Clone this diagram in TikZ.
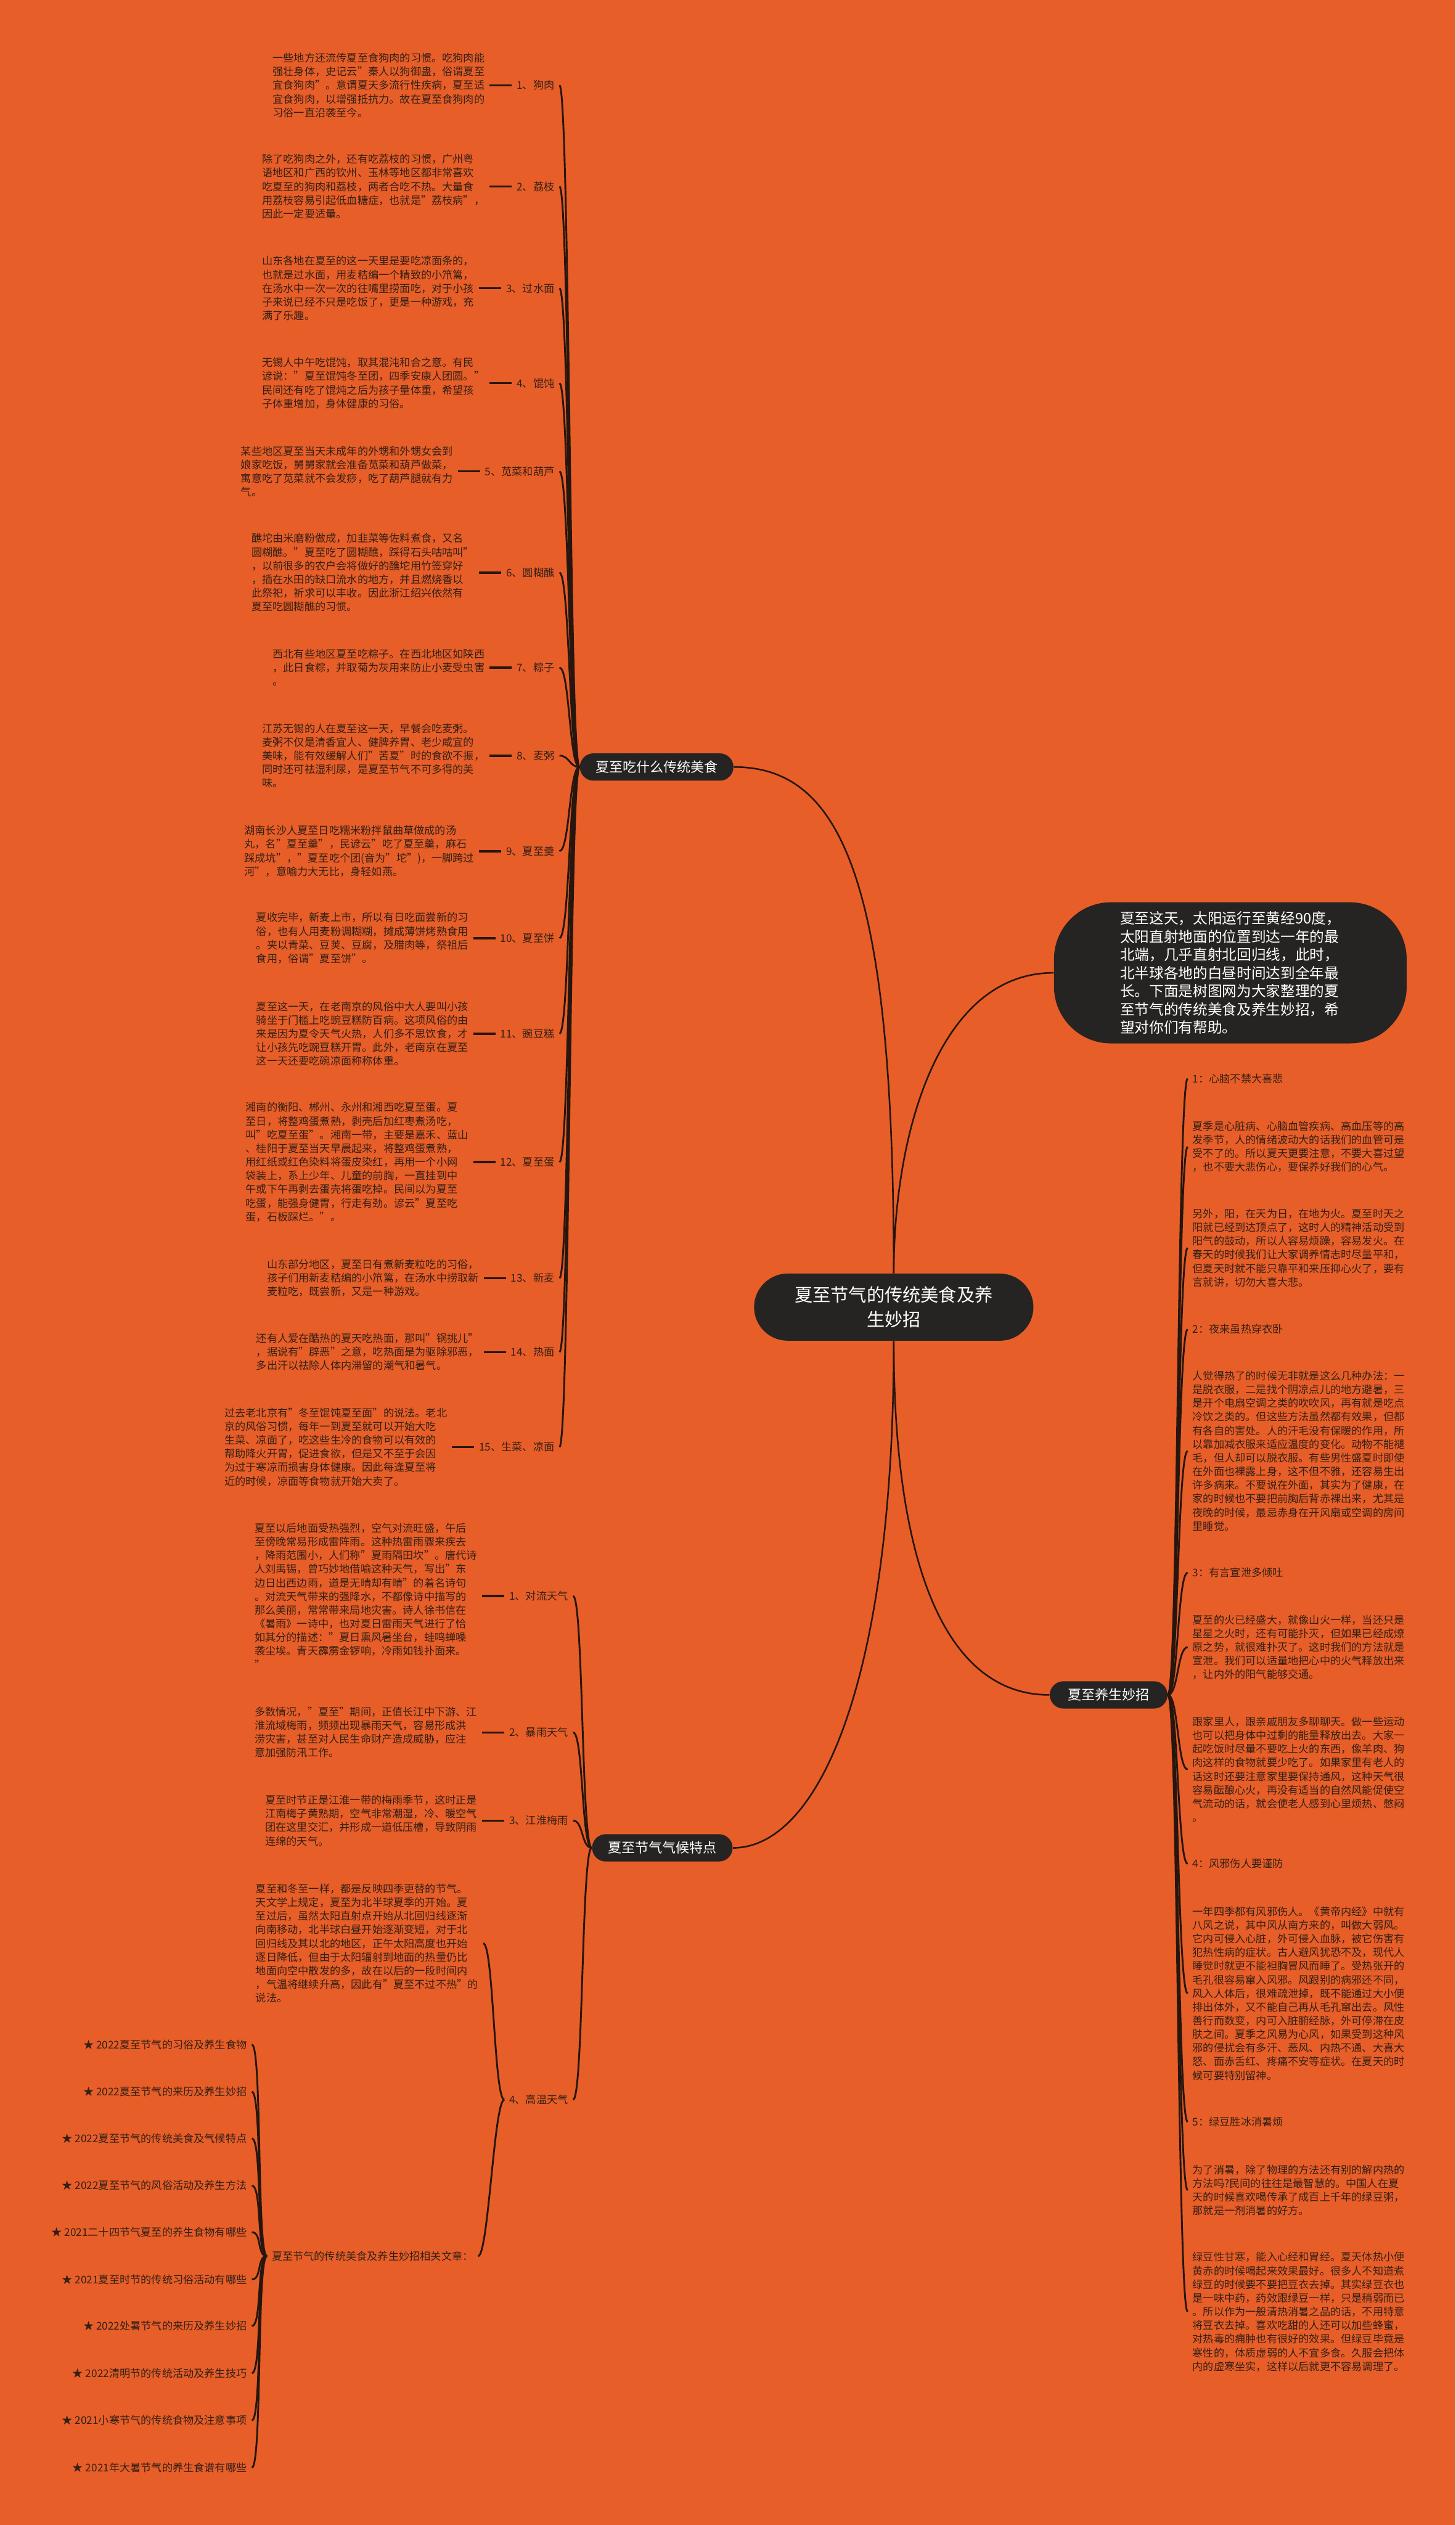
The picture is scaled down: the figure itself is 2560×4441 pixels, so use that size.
\documentclass[tikz,border=0pt]{standalone}
\usepackage{fontspec}
\setmainfont{Noto Sans CJK SC}
\usetikzlibrary{positioning}
\definecolor{bgorange}{RGB}{232,94,40}
\definecolor{pillgray}{RGB}{38,36,34}
\definecolor{inkbrown}{RGB}{50,32,22}
\definecolor{wirebrown}{RGB}{38,22,14}

\begin{document}
\begin{tikzpicture}[x=0.01cm, y=-0.01cm,
		txt/.style={align=left, inner sep=0.08cm, text=inkbrown, font=\fontsize{5.3}{6.83}\selectfont},
		rtxt/.style={txt, anchor=west},
		lbl/.style={txt, anchor=east},
		subject/.style={fill=pillgray, text=white, rounded corners=0.24cm, minimum height=0.48cm, inner sep=0.04cm, font=\fontsize{6.8}{8}\selectfont},
		hub/.style={fill=pillgray, text=white, align=center, rounded corners=0.59cm, minimum width=4.91cm, minimum height=1.18cm, font=\fontsize{9}{12.2}\selectfont},
		intro/.style={fill=pillgray, text=white, align=left, rounded corners=1cm, minimum width=6.2cm, minimum height=2.48cm, font=\fontsize{7.3}{9.1}\selectfont},
		mainwire/.style={draw=wirebrown, line width=0.8pt},
		stub/.style={draw=wirebrown, line width=1.1pt},
		lcurve/.style={draw=wirebrown, line width=0.9pt, to path={.. controls +(-18,0) and +(18,0) .. (\tikztotarget)}},
		rcurve/.style={draw=wirebrown, line width=0.9pt, to path={.. controls +(18,0) and +(-18,0) .. (\tikztotarget)}}
	]
	\useasboundingbox (0,0) rectangle (2560,4441);
	\fill[bgorange] (0,0) rectangle (2560,4441);

	\node[hub] (hub) at (1572,2299) {夏至节气的传统美食及养\\生妙招};
	\node[intro] (intro) at (2164,1711) {夏至这天，太阳运行至黄经90度，\\太阳直射地面的位置到达一年的最\\北端，几乎直射北回归线，此时，\\北半球各地的白昼时间达到全年最\\长。下面是树图网为大家整理的夏\\至节气的传统美食及养生妙招，希\\望对你们有帮助。};
	\node[subject, minimum width=2.70cm] (food) at (1155,1349) {夏至吃什么传统美食};
	\node[subject, minimum width=2.47cm] (climate) at (1165,3250) {夏至节气气候特点};
	\node[subject, minimum width=2.07cm] (care) at (1950,2981) {夏至养生妙招};

	\draw[mainwire] (hub.north) .. controls +(0,-690) and +(190,0) .. (food.east);
	\draw[mainwire] (hub.north) .. controls +(0,-250) and +(-200,0) .. (intro.west);
	\draw[mainwire] (hub.south) .. controls +(0,600) and +(150,0) .. (climate.east);
	\draw[mainwire] (hub.south) .. controls +(0,400) and +(-180,0) .. (care.west);

	\node[lbl] (f1) at (984,150) {1、狗肉};
	\node[txt, left=0.39cm of f1] (f1t) {一些地方还流传夏至食狗肉的习惯。吃狗肉能\\强壮身体，史记云"秦人以狗御蛊，俗谓夏至\\宜食狗肉"。意谓夏天多流行性疾病，夏至适\\宜食狗肉，以增强抵抗力。故在夏至食狗肉的\\习俗一直沿袭至今。};
	\node[lbl] (f2) at (984,328) {2、荔枝};
	\node[txt, left=0.39cm of f2] (f2t) {除了吃狗肉之外，还有吃荔枝的习惯，广州粤\\语地区和广西的钦州、玉林等地区都非常喜欢\\吃夏至的狗肉和荔枝，两者合吃不热。大量食\\用荔枝容易引起低血糖症，也就是"荔枝病"，\\因此一定要适量。};
	\node[lbl] (f3) at (984,507) {3、过水面};
	\node[txt, left=0.39cm of f3] (f3t) {山东各地在夏至的这一天里是要吃凉面条的，\\也就是过水面，用麦秸编一个精致的小笊篱，\\在汤水中一次一次的往嘴里捞面吃，对于小孩\\子来说已经不只是吃饭了，更是一种游戏，充\\满了乐趣。};
	\node[lbl] (f4) at (984,674) {4、馄饨};
	\node[txt, left=0.39cm of f4] (f4t) {无锡人中午吃馄饨，取其混沌和合之意。有民\\谚说："夏至馄饨冬至团，四季安康人团圆。"\\民间还有吃了馄炖之后为孩子量体重，希望孩\\子体重增加，身体健康的习俗。};
	\node[lbl] (f5) at (984,829) {5、苋菜和葫芦};
	\node[txt, left=0.39cm of f5] (f5t) {某些地区夏至当天未成年的外甥和外甥女会到\\娘家吃饭，舅舅家就会准备苋菜和葫芦做菜，\\寓意吃了苋菜就不会发痧，吃了葫芦腿就有力\\气。};
	\node[lbl] (f6) at (984,1007) {6、圆糊醮};
	\node[txt, left=0.39cm of f6] (f6t) {醮坨由米磨粉做成，加韭菜等佐料煮食，又名\\圆糊醮。"夏至吃了圆糊醮，踩得石头咕咕叫"\\，以前很多的农户会将做好的醮坨用竹签穿好\\，插在水田的缺口流水的地方，并且燃烧香以\\此祭祀，祈求可以丰收。因此浙江绍兴依然有\\夏至吃圆糊醮的习惯。};
	\node[lbl] (f7) at (984,1174) {7、粽子};
	\node[txt, left=0.39cm of f7] (f7t) {西北有些地区夏至吃粽子。在西北地区如陕西\\，此日食粽，并取菊为灰用来防止小麦受虫害\\。};
	\node[lbl] (f8) at (984,1329) {8、麦粥};
	\node[txt, left=0.39cm of f8] (f8t) {江苏无锡的人在夏至这一天，早餐会吃麦粥。\\麦粥不仅是清香宜人、健脾养胃、老少咸宜的\\美味，能有效缓解人们"苦夏"时的食欲不振，\\同时还可祛湿利尿，是夏至节气不可多得的美\\味。};
	\node[lbl] (f9) at (984,1497) {9、夏至羹};
	\node[txt, left=0.39cm of f9] (f9t) {湖南长沙人夏至日吃糯米粉拌鼠曲草做成的汤\\丸，名"夏至羹"，民谚云"吃了夏至羹，麻石\\踩成坑"，"夏至吃个团(音为"坨")，一脚跨过\\河"，意喻力大无比，身轻如燕。};
	\node[lbl] (f10) at (984,1650) {10、夏至饼};
	\node[txt, left=0.39cm of f10] (f10t) {夏收完毕，新麦上市，所以有日吃面尝新的习\\俗，也有人用麦粉调糊糊，摊成薄饼烤熟食用\\。夹以青菜、豆荚、豆腐，及腊肉等，祭祖后\\食用，俗谓"夏至饼"。};
	\node[lbl] (f11) at (984,1818) {11、豌豆糕};
	\node[txt, left=0.39cm of f11] (f11t) {夏至这一天，在老南京的风俗中大人要叫小孩\\骑坐于门槛上吃豌豆糕防百病。这项风俗的由\\来是因为夏令天气火热，人们多不思饮食，才\\让小孩先吃豌豆糕开胃。此外，老南京在夏至\\这一天还要吃碗凉面称称体重。};
	\node[lbl] (f12) at (984,2044) {12、夏至蛋};
	\node[txt, left=0.39cm of f12] (f12t) {湘南的衡阳、郴州、永州和湘西吃夏至蛋。夏\\至日，将整鸡蛋煮熟，剥壳后加红枣煮汤吃，\\叫"吃夏至蛋"。湘南一带，主要是嘉禾、蓝山\\、桂阳于夏至当天早晨起来，将整鸡蛋煮熟，\\用红纸或红色染料将蛋皮染红，再用一个小网\\袋装上，系上少年、儿童的前胸，一直挂到中\\午或下午再剥去蛋壳将蛋吃掉。民间以为夏至\\吃蛋，能强身健胃，行走有劲。谚云"夏至吃\\蛋，石板踩烂。"。};
	\node[lbl] (f13) at (984,2248) {13、新麦};
	\node[txt, left=0.39cm of f13] (f13t) {山东部分地区，夏至日有煮新麦粒吃的习俗，\\孩子们用新麦秸编的小笊篱，在汤水中捞取新\\麦粒吃，既尝新，又是一种游戏。};
	\node[lbl] (f14) at (984,2378) {14、热面};
	\node[txt, left=0.39cm of f14] (f14t) {还有人爱在酷热的夏天吃热面，那叫"锅挑儿"\\，据说有"辟恶"之意，吃热面是为驱除邪恶，\\多出汗以祛除人体内滞留的潮气和暑气。};
	\node[lbl] (f15) at (984,2545) {15、生菜、凉面};
	\node[txt, left=0.39cm of f15] (f15t) {过去老北京有"冬至馄饨夏至面"的说法。老北\\京的风俗习惯，每年一到夏至就可以开始大吃\\生菜、凉面了，吃这些生冷的食物可以有效的\\帮助降火开胃，促进食欲，但是又不至于会因\\为过于寒凉而损害身体健康。因此每逢夏至将\\近的时候，凉面等食物就开始大卖了。};

	\draw[lcurve] (food.west) to (f1.east);
	\draw[lcurve] (food.west) to (f2.east);
	\draw[lcurve] (food.west) to (f3.east);
	\draw[lcurve] (food.west) to (f4.east);
	\draw[lcurve] (food.west) to (f5.east);
	\draw[lcurve] (food.west) to (f6.east);
	\draw[lcurve] (food.west) to (f7.east);
	\draw[lcurve] (food.west) to (f8.east);
	\draw[lcurve] (food.west) to (f9.east);
	\draw[lcurve] (food.west) to (f10.east);
	\draw[lcurve] (food.west) to (f11.east);
	\draw[lcurve] (food.west) to (f12.east);
	\draw[lcurve] (food.west) to (f13.east);
	\draw[lcurve] (food.west) to (f14.east);
	\draw[lcurve] (food.west) to (f15.east);
	\draw[stub] (f1t) -- (f1);
	\draw[stub] (f2t) -- (f2);
	\draw[stub] (f3t) -- (f3);
	\draw[stub] (f4t) -- (f4);
	\draw[stub] (f5t) -- (f5);
	\draw[stub] (f6t) -- (f6);
	\draw[stub] (f7t) -- (f7);
	\draw[stub] (f8t) -- (f8);
	\draw[stub] (f9t) -- (f9);
	\draw[stub] (f10t) -- (f10);
	\draw[stub] (f11t) -- (f11);
	\draw[stub] (f12t) -- (f12);
	\draw[stub] (f13t) -- (f13);
	\draw[stub] (f14t) -- (f14);
	\draw[stub] (f15t) -- (f15);

	\node[lbl] (c1) at (1008,2807) {1、对流天气};
	\node[txt, left=0.39cm of c1] (c1t) {夏至以后地面受热强烈，空气对流旺盛，午后\\至傍晚常易形成雷阵雨。这种热雷雨骤来疾去\\，降雨范围小，人们称"夏雨隔田坎"。唐代诗\\人刘禹锡，曾巧妙地借喻这种天气，写出"东\\边日出西边雨，道是无晴却有晴"的着名诗句\\。对流天气带来的强降水，不都像诗中描写的\\那么美丽，常常带来局地灾害。诗人徐书信在\\《暑雨》一诗中，也对夏日雷雨天气进行了恰\\如其分的描述："夏日熏风暑坐台，蛙鸣蝉噪\\袭尘埃。青天霹雳金锣响，冷雨如钱扑面来。\\"};
	\node[lbl] (c2) at (1008,3047) {2、暴雨天气};
	\node[txt, left=0.39cm of c2] (c2t) {多数情况，"夏至"期间，正值长江中下游、江\\淮流域梅雨，频频出现暴雨天气，容易形成洪\\涝灾害，甚至对人民生命财产造成威胁，应注\\意加强防汛工作。};
	\node[lbl] (c3) at (1008,3202) {3、江淮梅雨};
	\node[txt, left=0.39cm of c3] (c3t) {夏至时节正是江淮一带的梅雨季节，这时正是\\江南梅子黄熟期，空气非常潮湿，冷、暖空气\\团在这里交汇，并形成一道低压槽，导致阴雨\\连绵的天气。};
	\node[lbl] (c4) at (1008,3693) {4、高温天气};
	\node[lbl] (c4t) at (850,3418) {夏至和冬至一样，都是反映四季更替的节气。\\天文学上规定，夏至为北半球夏季的开始。夏\\至过后，虽然太阳直射点开始从北回归线逐渐\\向南移动，北半球白昼开始逐渐变短，对于北\\回归线及其以北的地区，正午太阳高度也开始\\逐日降低，但由于太阳辐射到地面的热量仍比\\地面向空中散发的多，故在以后的一段时间内\\，气温将继续升高，因此有"夏至不过不热"的\\说法。};
	\node[lbl] (art) at (841,3968) {夏至节气的传统美食及养生妙招相关文章：};

	\draw[lcurve] (climate.west) to (c1.east);
	\draw[lcurve] (climate.west) to (c2.east);
	\draw[lcurve] (climate.west) to (c3.east);
	\draw[lcurve] (climate.west) to (c4.east);
	\draw[stub] (c1t) -- (c1);
	\draw[stub] (c2t) -- (c2);
	\draw[stub] (c3t) -- (c3);
	\draw[lcurve] (c4.west) to (c4t.east);
	\draw[lcurve] (c4.west) to (art.east);

	\node[lbl] (a1) at (443,3596) {★ 2022夏至节气的习俗及养生食物};
	\node[lbl] (a2) at (443,3679) {★ 2022夏至节气的来历及养生妙招};
	\node[lbl] (a3) at (443,3761) {★ 2022夏至节气的传统美食及气候特点};
	\node[lbl] (a4) at (443,3844) {★ 2022夏至节气的风俗活动及养生方法};
	\node[lbl] (a5) at (443,3926) {★ 2021二十四节气夏至的养生食物有哪些};
	\node[lbl] (a6) at (443,4009) {★ 2021夏至时节的传统习俗活动有哪些};
	\node[lbl] (a7) at (443,4091) {★ 2022处暑节气的来历及养生妙招};
	\node[lbl] (a8) at (443,4174) {★ 2022清明节的传统活动及养生技巧};
	\node[lbl] (a9) at (443,4257) {★ 2021小寒节气的传统食物及注意事项};
	\node[lbl] (a10) at (443,4340) {★ 2021年大暑节气的养生食谱有哪些};

	\draw[lcurve] (art.west) to (a1.east);
	\draw[lcurve] (art.west) to (a2.east);
	\draw[lcurve] (art.west) to (a3.east);
	\draw[lcurve] (art.west) to (a4.east);
	\draw[lcurve] (art.west) to (a5.east);
	\draw[lcurve] (art.west) to (a6.east);
	\draw[lcurve] (art.west) to (a7.east);
	\draw[lcurve] (art.west) to (a8.east);
	\draw[lcurve] (art.west) to (a9.east);
	\draw[lcurve] (art.west) to (a10.east);

	\node[rtxt] (s1) at (2089,1897) {1：心脑不禁大喜悲};
	\node[rtxt] (s2) at (2089,2017) {夏季是心脏病、心脑血管疾病、高血压等的高\\发季节，人的情绪波动大的话我们的血管可是\\受不了的。所以夏天更要注意，不要大喜过望\\，也不要大悲伤心，要保养好我们的心气。};
	\node[rtxt] (s3) at (2089,2195) {另外，阳，在天为日，在地为火。夏至时天之\\阳就已经到达顶点了，这时人的精神活动受到\\阳气的鼓动，所以人容易烦躁，容易发火。在\\春天的时候我们让大家调养情志时尽量平和，\\但夏天时就不能只靠平和来压抑心火了，要有\\言就讲，切勿大喜大悲。};
	\node[rtxt] (s4) at (2089,2338) {2：夜来虽热穿衣卧};
	\node[rtxt] (s5) at (2089,2552) {人觉得热了的时候无非就是这么几种办法：一\\是脱衣服，二是找个阴凉点儿的地方避暑，三\\是开个电扇空调之类的吹吹风，再有就是吃点\\冷饮之类的。但这些方法虽然都有效果，但都\\有各自的害处。人的汗毛没有保暖的作用，所\\以靠加减衣服来适应温度的变化。动物不能褪\\毛，但人却可以脱衣服。有些男性盛夏时即使\\在外面也裸露上身，这不但不雅，还容易生出\\许多病来。不要说在外面，其实为了健康，在\\家的时候也不要把前胸后背赤裸出来，尤其是\\夜晚的时候，最忌赤身在开风扇或空调的房间\\里睡觉。};
	\node[rtxt] (s6) at (2089,2766) {3：有言宣泄多倾吐};
	\node[rtxt] (s7) at (2089,2897) {夏至的火已经盛大，就像山火一样，当还只是\\星星之火时，还有可能扑灭，但如果已经成燎\\原之势，就很难扑灭了。这时我们的方法就是\\宣泄。我们可以适量地把心中的火气释放出来\\，让内外的阳气能够交通。};
	\node[rtxt] (s8) at (2089,3112) {跟家里人，跟亲戚朋友多聊聊天。做一些运动\\也可以把身体中过剩的能量释放出去。大家一\\起吃饭时尽量不要吃上火的东西，像羊肉、狗\\肉这样的食物就要少吃了。如果家里有老人的\\话这时还要注意家里要保持通风，这种天气很\\容易酝酿心火，再没有适当的自然风能促使空\\气流动的话，就会使老人感到心里烦热、憋闷\\。};
	\node[rtxt] (s9) at (2089,3278) {4：风邪伤人要谨防};
	\node[rtxt] (s10) at (2089,3506) {一年四季都有风邪伤人。《黄帝内经》中就有\\八风之说，其中风从南方来的，叫做大弱风。\\它内可侵入心脏，外可侵入血脉，被它伤害有\\犯热性病的症状。古人避风犹恐不及，现代人\\睡觉时就更不能袒胸冒风而睡了。受热张开的\\毛孔很容易窜入风邪。风跟别的病邪还不同，\\风入人体后，很难疏泄掉，既不能通过大小便\\排出体外，又不能自己再从毛孔窜出去。风性\\善行而数变，内可入脏腑经脉，外可停滞在皮\\肤之间。夏季之风易为心风，如果受到这种风\\邪的侵扰会有多汗、恶风、内热不通、大喜大\\怒、面赤舌红、疼痛不安等症状。在夏天的时\\候可要特别留神。};
	\node[rtxt] (s11) at (2089,3732) {5：绿豆胜冰消暑烦};
	\node[rtxt] (s12) at (2089,3852) {为了消暑，除了物理的方法还有别的解内热的\\方法吗?民间的往往是最智慧的。中国人在夏\\天的时候喜欢喝传承了成百上千年的绿豆粥，\\那就是一剂消暑的好方。};
	\node[rtxt] (s13) at (2089,4066) {绿豆性甘寒，能入心经和胃经。夏天体热小便\\黄赤的时候喝起来效果最好。很多人不知道煮\\绿豆的时候要不要把豆衣去掉。其实绿豆衣也\\是一味中药，药效跟绿豆一样，只是稍弱而已\\。所以作为一般清热消暑之品的话，不用特意\\将豆衣去掉。喜欢吃甜的人还可以加些蜂蜜，\\对热毒的痈肿也有很好的效果。但绿豆毕竟是\\寒性的，体质虚弱的人不宜多食。久服会把体\\内的虚寒坐实，这样以后就更不容易调理了。};

	\draw[rcurve] (care.east) to (s1.west);
	\draw[rcurve] (care.east) to (s2.west);
	\draw[rcurve] (care.east) to (s3.west);
	\draw[rcurve] (care.east) to (s4.west);
	\draw[rcurve] (care.east) to (s5.west);
	\draw[rcurve] (care.east) to (s6.west);
	\draw[rcurve] (care.east) to (s7.west);
	\draw[rcurve] (care.east) to (s8.west);
	\draw[rcurve] (care.east) to (s9.west);
	\draw[rcurve] (care.east) to (s10.west);
	\draw[rcurve] (care.east) to (s11.west);
	\draw[rcurve] (care.east) to (s12.west);
	\draw[rcurve] (care.east) to (s13.west);
\end{tikzpicture}
\end{document}
